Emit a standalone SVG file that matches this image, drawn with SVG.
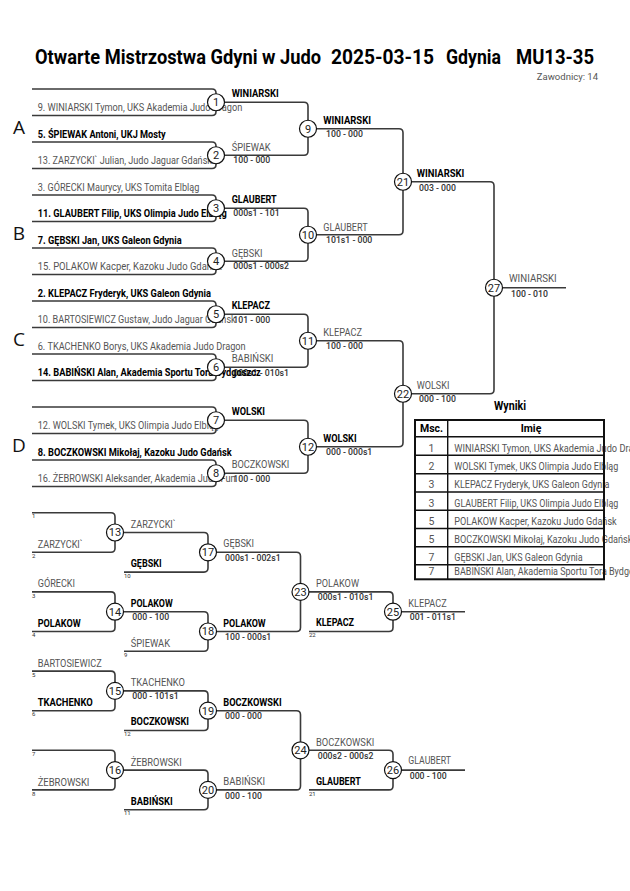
<svg xmlns="http://www.w3.org/2000/svg" width="630" height="891" viewBox="0 0 630 891">
<style>
text{font-family:Roboto,"Liberation Sans",sans-serif}
.ln{fill:none;stroke:#3a3a3a;stroke-width:1.6}
.cc{fill:#fff;stroke:#111;stroke-width:1.2}
.cn{font-size:11px;text-anchor:middle;fill:#222}
.n{font-size:10.5px}
.b{font-weight:700;fill:#000}
.g{fill:#555}
.sc{font-size:8.7px;font-weight:500;fill:#333}
.tn{font-size:6px;fill:#333}
.pool{font-family:"Open Sans","Liberation Sans",sans-serif;font-size:19px;fill:#111;text-anchor:middle}
.tt{font-size:20.5px;font-weight:700;fill:#000}
.tb{fill:none;stroke:#111;stroke-width:1.4}
.tbo{fill:#fff;stroke:#111;stroke-width:2}
</style>
<rect width="630" height="891" fill="#fff"/>

<g id="title">
<text class="tt" x="35" y="64" textLength="286" lengthAdjust="spacingAndGlyphs">Otwarte Mistrzostwa Gdyni w Judo</text>
<text class="tt" x="331" y="64" textLength="103" lengthAdjust="spacingAndGlyphs">2025-03-15</text>
<text class="tt" x="446" y="64" textLength="55" lengthAdjust="spacingAndGlyphs">Gdynia</text>
<text class="tt" x="516" y="64" textLength="78" lengthAdjust="spacingAndGlyphs">MU13-35</text>
<text x="598" y="80" font-size="9.5" fill="#555" text-anchor="end">Zawodnicy: 14</text>
</g>

<g id="pools">
<text class="pool" x="19" y="134">A</text>
<text class="pool" x="19" y="240">B</text>
<text class="pool" x="19" y="346">C</text>
<text class="pool" x="19" y="452">D</text>
</g>

<g id="connectors">
<path class="ln" d="M32 89H212Q216 89 216 93V111.5Q216 115.5 212 115.5H32"/>
<path class="ln" d="M32 142H212Q216 142 216 146V164.5Q216 168.5 212 168.5H32"/>
<path class="ln" d="M32 195H212Q216 195 216 199V217.5Q216 221.5 212 221.5H32"/>
<path class="ln" d="M32 248H212Q216 248 216 252V270.5Q216 274.5 212 274.5H32"/>
<path class="ln" d="M32 301H212Q216 301 216 305V323.5Q216 327.5 212 327.5H32"/>
<path class="ln" d="M32 354H212Q216 354 216 358V376.5Q216 380.5 212 380.5H32"/>
<path class="ln" d="M32 407H212Q216 407 216 411V429.5Q216 433.5 212 433.5H32"/>
<path class="ln" d="M32 460H212Q216 460 216 464V482.5Q216 486.5 212 486.5H32"/>
<path class="ln" d="M216 102.25H304Q308 102.25 308 106.25V151.25Q308 155.25 304 155.25H216"/>
<path class="ln" d="M216 208.25H304Q308 208.25 308 212.25V257.25Q308 261.25 304 261.25H216"/>
<path class="ln" d="M216 314.25H304Q308 314.25 308 318.25V363.25Q308 367.25 304 367.25H216"/>
<path class="ln" d="M216 420.25H304Q308 420.25 308 424.25V469.25Q308 473.25 304 473.25H216"/>
<path class="ln" d="M308 128.75H399Q403 128.75 403 132.75V230.75Q403 234.75 399 234.75H308"/>
<path class="ln" d="M308 340.75H399Q403 340.75 403 344.75V442.75Q403 446.75 399 446.75H308"/>
<path class="ln" d="M403 181.75H490Q494 181.75 494 185.75V389.75Q494 393.75 490 393.75H403"/>
<path class="ln" d="M494 287.75H566"/>

<path class="ln" d="M32 512.7H111Q115 512.7 115 516.7V548.3Q115 552.3 111 552.3H32"/>
<path class="ln" d="M32 591.9H111Q115 591.9 115 595.9V627.5Q115 631.5 111 631.5H32"/>
<path class="ln" d="M32 671.1H111Q115 671.1 115 675.1V706.7Q115 710.7 111 710.7H32"/>
<path class="ln" d="M32 750.3H111Q115 750.3 115 754.3V785.9Q115 789.9 111 789.9H32"/>
<path class="ln" d="M115 532.5H204Q208 532.5 208 536.5V568.1Q208 572.1 204 572.1H124"/>
<path class="ln" d="M115 611.7H204Q208 611.7 208 615.7V647.3Q208 651.3 204 651.3H124"/>
<path class="ln" d="M115 690.9H204Q208 690.9 208 694.9V726.5Q208 730.5 204 730.5H124"/>
<path class="ln" d="M115 770.1H204Q208 770.1 208 774.1V805.7Q208 809.7 204 809.7H124"/>
<path class="ln" d="M208 552.3H296.5Q300.5 552.3 300.5 556.3V627.5Q300.5 631.5 296.5 631.5H208"/>
<path class="ln" d="M208 710.7H296.5Q300.5 710.7 300.5 714.7V785.9Q300.5 789.9 296.5 789.9H208"/>
<path class="ln" d="M300.5 591.9H389Q393 591.9 393 595.9V627.5Q393 631.5 389 631.5H309"/>
<path class="ln" d="M300.5 750.3H389Q393 750.3 393 754.3V785.9Q393 789.9 389 789.9H309"/>
<path class="ln" d="M393 611.7H465"/>
<path class="ln" d="M393 770.1H465"/>
</g>

<g id="entrants">
<text class="n g" x="37.7" y="111" textLength="204.6" lengthAdjust="spacingAndGlyphs">9. WINIARSKI Tymon, UKS Akademia Judo Dragon</text>
<text class="n b" x="37.7" y="137.5" textLength="128" lengthAdjust="spacingAndGlyphs">5. ŚPIEWAK Antoni, UKJ Mosty</text>
<text class="n g" x="37.7" y="164" textLength="174.3" lengthAdjust="spacingAndGlyphs">13. ZARZYCKI` Julian, Judo Jaguar Gdańsk</text>
<text class="n g" x="37.7" y="190.5" textLength="161.6" lengthAdjust="spacingAndGlyphs">3. GÓRECKI Maurycy, UKS Tomita Elbląg</text>
<text class="n b" x="37.7" y="217" textLength="189" lengthAdjust="spacingAndGlyphs">11. GLAUBERT Filip, UKS Olimpia Judo Elbląg</text>
<text class="n b" x="37.7" y="243.5" textLength="144" lengthAdjust="spacingAndGlyphs">7. GĘBSKI Jan, UKS Galeon Gdynia</text>
<text class="n g" x="37.7" y="270" textLength="184" lengthAdjust="spacingAndGlyphs">15. POLAKOW Kacper, Kazoku Judo Gdańsk</text>
<text class="n b" x="37.7" y="296.5" textLength="173.3" lengthAdjust="spacingAndGlyphs">2. KLEPACZ Fryderyk, UKS Galeon Gdynia</text>
<text class="n g" x="37.7" y="323" textLength="198" lengthAdjust="spacingAndGlyphs">10. BARTOSIEWICZ Gustaw, Judo Jaguar Gdańsk</text>
<text class="n g" x="37.7" y="349.5" textLength="208" lengthAdjust="spacingAndGlyphs">6. TKACHENKO Borys, UKS Akademia Judo Dragon</text>
<text class="n g" x="37.7" y="429" textLength="181.3" lengthAdjust="spacingAndGlyphs">12. WOLSKI Tymek, UKS Olimpia Judo Elbląg</text>
<text class="n b" x="37.7" y="455.5" textLength="194" lengthAdjust="spacingAndGlyphs">8. BOCZKOWSKI Mikołaj, Kazoku Judo Gdańsk</text>
</g>

<g id="scores-main">
<text class="sc" x="233.3" y="163.3">100 - 000</text>
<text class="sc" x="233.3" y="216.3">000s1 - 101</text>
<text class="sc" x="233.3" y="269.3">000s1 - 000s2</text>
<text class="sc" x="233.3" y="322.5">101 - 000</text>
<text class="sc" x="233.3" y="375.5">000s1 - 010s1</text>
<text class="sc" x="233.3" y="481.5">100 - 000</text>
</g>

<g id="entrants-overlap">
<text class="n b" x="37.7" y="376" textLength="223" lengthAdjust="spacingAndGlyphs">14. BABIŃSKI Alan, Akademia Sportu Tora Bydgoszcz</text>
<text class="n g" x="37.7" y="482" textLength="198" lengthAdjust="spacingAndGlyphs">16. ŻEBROWSKI Aleksander, Akademia Judo Fun</text>
</g>

<g id="m1"><circle class="cc" cx="216" cy="102.25" r="8.5"/><text class="cn" x="216" y="106.2">1</text>
<text class="n b" x="231.7" y="97" textLength="47" lengthAdjust="spacingAndGlyphs">WINIARSKI</text></g>
<g id="m2"><circle class="cc" cx="216" cy="155.25" r="8.5"/><text class="cn" x="216" y="159.2">2</text>
<text class="n g" x="231.7" y="150.5" textLength="39" lengthAdjust="spacingAndGlyphs">ŚPIEWAK</text></g>
<g id="m3"><circle class="cc" cx="216" cy="208.25" r="8.5"/><text class="cn" x="216" y="212.2">3</text>
<text class="n b" x="231.7" y="203" textLength="45" lengthAdjust="spacingAndGlyphs">GLAUBERT</text></g>
<g id="m4"><circle class="cc" cx="216" cy="261.25" r="8.5"/><text class="cn" x="216" y="265.2">4</text>
<text class="n g" x="231.7" y="256.5" textLength="30.7" lengthAdjust="spacingAndGlyphs">GĘBSKI</text></g>
<g id="m5"><circle class="cc" cx="216" cy="314.25" r="8.5"/><text class="cn" x="216" y="318.2">5</text>
<text class="n b" x="231.7" y="309.3" textLength="38.3" lengthAdjust="spacingAndGlyphs">KLEPACZ</text></g>
<g id="m6"><circle class="cc" cx="216" cy="367.25" r="8.5"/><text class="cn" x="216" y="371.2">6</text>
<text class="n g" x="231.7" y="362" textLength="41.7" lengthAdjust="spacingAndGlyphs">BABIŃSKI</text></g>
<g id="m7"><circle class="cc" cx="216" cy="420.25" r="8.5"/><text class="cn" x="216" y="424.2">7</text>
<text class="n b" x="231.7" y="415" textLength="33.3" lengthAdjust="spacingAndGlyphs">WOLSKI</text></g>
<g id="m8"><circle class="cc" cx="216" cy="473.25" r="8.5"/><text class="cn" x="216" y="477.2">8</text>
<text class="n g" x="231.7" y="467.8" textLength="57.7" lengthAdjust="spacingAndGlyphs">BOCZKOWSKI</text></g>

<g id="m9"><circle class="cc" cx="308" cy="128.75" r="8.5"/><text class="cn" x="308" y="132.7">9</text>
<text class="n b" x="323.3" y="124" textLength="47.7" lengthAdjust="spacingAndGlyphs">WINIARSKI</text>
<text class="sc" x="326" y="137.3">100 - 000</text></g>
<g id="m10"><circle class="cc" cx="308" cy="234.75" r="8.5"/><text class="cn" x="308" y="238.7">10</text>
<text class="n g" x="323.3" y="230.5" textLength="44.3" lengthAdjust="spacingAndGlyphs">GLAUBERT</text>
<text class="sc" x="326" y="243.3">101s1 - 000</text></g>
<g id="m11"><circle class="cc" cx="308" cy="340.75" r="8.5"/><text class="cn" x="308" y="344.7">11</text>
<text class="n g" x="323.3" y="335.7" textLength="38.7" lengthAdjust="spacingAndGlyphs">KLEPACZ</text>
<text class="sc" x="326" y="349">100 - 000</text></g>
<g id="m12"><circle class="cc" cx="308" cy="446.75" r="8.5"/><text class="cn" x="308" y="450.7">12</text>
<text class="n b" x="323.3" y="441.7" textLength="33.3" lengthAdjust="spacingAndGlyphs">WOLSKI</text>
<text class="sc" x="326" y="455">000 - 000s1</text></g>
<g id="m21"><circle class="cc" cx="403" cy="181.75" r="8.5"/><text class="cn" x="403" y="185.7">21</text>
<text class="n b" x="416.7" y="177.3" textLength="47.7" lengthAdjust="spacingAndGlyphs">WINIARSKI</text>
<text class="sc" x="419" y="190.7">003 - 000</text></g>
<g id="m22"><circle class="cc" cx="403" cy="393.75" r="8.5"/><text class="cn" x="403" y="397.7">22</text>
<text class="n g" x="416.7" y="389" textLength="32.7" lengthAdjust="spacingAndGlyphs">WOLSKI</text>
<text class="sc" x="419" y="402.3">000 - 100</text></g>
<g id="m27"><circle class="cc" cx="494" cy="287.75" r="8.5"/><text class="cn" x="494" y="291.7">27</text>
<text class="n g" x="509" y="281.7" textLength="47.7" lengthAdjust="spacingAndGlyphs">WINIARSKI</text>
<text class="sc" x="511" y="296.7">100 - 010</text></g>

<g id="results">
<text x="510" y="410" font-size="12.5" font-weight="700" text-anchor="middle" textLength="32" lengthAdjust="spacingAndGlyphs">Wyniki</text>
<rect class="tbo" x="415" y="420" width="189" height="159.3"/>
<g class="n g">
<text x="454.3" y="451.5" textLength="194.6" lengthAdjust="spacingAndGlyphs">WINIARSKI Tymon, UKS Akademia Judo Dragon</text>
<text x="454.3" y="470" textLength="164" lengthAdjust="spacingAndGlyphs">WOLSKI Tymek, UKS Olimpia Judo Elbląg</text>
<text x="454.3" y="488.2" textLength="155" lengthAdjust="spacingAndGlyphs">KLEPACZ Fryderyk, UKS Galeon Gdynia</text>
<text x="454.3" y="506.5" textLength="164" lengthAdjust="spacingAndGlyphs">GLAUBERT Filip, UKS Olimpia Judo Elbląg</text>
<text x="454.3" y="524.7" textLength="162.4" lengthAdjust="spacingAndGlyphs">POLAKOW Kacper, Kazoku Judo Gdańsk</text>
<text x="454.3" y="542.9" textLength="178" lengthAdjust="spacingAndGlyphs">BOCZKOWSKI Mikołaj, Kazoku Judo Gdańsk</text>
<text x="454.3" y="561" textLength="128.4" lengthAdjust="spacingAndGlyphs">GĘBSKI Jan, UKS Galeon Gdynia</text>
<text x="454.3" y="575.3" textLength="198" lengthAdjust="spacingAndGlyphs">BABIŃSKI Alan, Akademia Sportu Tora Bydgoszcz</text>
</g>
<g class="n g" text-anchor="middle">
<text x="431.5" y="451.5">1</text>
<text x="431.5" y="470">2</text>
<text x="431.5" y="488.2">3</text>
<text x="431.5" y="506.5">3</text>
<text x="431.5" y="524.7">5</text>
<text x="431.5" y="542.9">5</text>
<text x="431.5" y="561">7</text>
<text x="431.5" y="575.3">7</text>
</g>
<g class="n b" text-anchor="middle">
<text x="431.5" y="432.3">Msc.</text>
<text x="531" y="432.3">Imię</text>
</g>
<path class="tb" d="M415 436.7H604M415 455.3H604M415 473.8H604M415 492H604M415 510.3H604M415 528.5H604M415 546.7H604M415 564.7H604M447.7 420V579.3"/>
<path fill="none" stroke="#111" stroke-width="2" d="M604 420V579.3"/>
</g>

<g id="repechage-entrants">
<text class="tn" x="32" y="518.3">1</text>
<text class="n g" x="37.7" y="547.8" textLength="45" lengthAdjust="spacingAndGlyphs">ZARZYCKI`</text>
<text class="tn" x="32" y="558">2</text>
<text class="n b" x="130.7" y="566.5" textLength="31" lengthAdjust="spacingAndGlyphs">GĘBSKI</text>
<text class="tn" x="124" y="577.8">10</text>
<text class="n g" x="37.7" y="587.3" textLength="37.3" lengthAdjust="spacingAndGlyphs">GÓRECKI</text>
<text class="tn" x="32" y="597.6">3</text>
<text class="n b" x="37.7" y="626.8" textLength="43" lengthAdjust="spacingAndGlyphs">POLAKOW</text>
<text class="tn" x="32" y="637.2">4</text>
<text class="n g" x="130.7" y="646.7" textLength="39.3" lengthAdjust="spacingAndGlyphs">ŚPIEWAK</text>
<text class="tn" x="124" y="657">9</text>
<text class="n b" x="316" y="626.3" textLength="38" lengthAdjust="spacingAndGlyphs">KLEPACZ</text>
<text class="tn" x="309" y="637.2">22</text>
<text class="n g" x="37.7" y="666.7" textLength="64" lengthAdjust="spacingAndGlyphs">BARTOSIEWICZ</text>
<text class="tn" x="32" y="676.8">5</text>
<text class="n b" x="37.7" y="706" textLength="55" lengthAdjust="spacingAndGlyphs">TKACHENKO</text>
<text class="tn" x="32" y="716.4">6</text>
<text class="n b" x="130.7" y="725.4" textLength="58.3" lengthAdjust="spacingAndGlyphs">BOCZKOWSKI</text>
<text class="tn" x="124" y="736.2">12</text>
<text class="tn" x="32" y="756">7</text>
<text class="n g" x="37.7" y="785.6" textLength="51.7" lengthAdjust="spacingAndGlyphs">ŻEBROWSKI</text>
<text class="tn" x="32" y="795.6">8</text>
<text class="n b" x="130.7" y="805" textLength="42" lengthAdjust="spacingAndGlyphs">BABIŃSKI</text>
<text class="tn" x="124" y="815.4">11</text>
<text class="n b" x="316" y="785.2" textLength="44.7" lengthAdjust="spacingAndGlyphs">GLAUBERT</text>
<text class="tn" x="309" y="795.6">21</text>
</g>

<g id="m13"><circle class="cc" cx="115" cy="532.5" r="8.5"/><text class="cn" x="115" y="536.4">13</text>
<text class="n g" x="130.7" y="527.5" textLength="45" lengthAdjust="spacingAndGlyphs">ZARZYCKI`</text></g>
<g id="m14"><circle class="cc" cx="115" cy="611.7" r="8.5"/><text class="cn" x="115" y="615.6">14</text>
<text class="n b" x="130.7" y="606.7" textLength="42" lengthAdjust="spacingAndGlyphs">POLAKOW</text>
<text class="sc" x="132.3" y="619.5">000 - 100</text></g>
<g id="m15"><circle class="cc" cx="115" cy="690.9" r="8.5"/><text class="cn" x="115" y="694.8">15</text>
<text class="n g" x="130.7" y="686.3" textLength="54.3" lengthAdjust="spacingAndGlyphs">TKACHENKO</text>
<text class="sc" x="132.3" y="699.3">000 - 101s1</text></g>
<g id="m16"><circle class="cc" cx="115" cy="770.1" r="8.5"/><text class="cn" x="115" y="774">16</text>
<text class="n g" x="130.7" y="765.6" textLength="51" lengthAdjust="spacingAndGlyphs">ŻEBROWSKI</text></g>
<g id="m17"><circle class="cc" cx="208" cy="552.3" r="8.5"/><text class="cn" x="208" y="556.2">17</text>
<text class="n g" x="223.3" y="547.3" textLength="30.7" lengthAdjust="spacingAndGlyphs">GĘBSKI</text>
<text class="sc" x="225" y="560.7">000s1 - 002s1</text></g>
<g id="m18"><circle class="cc" cx="208" cy="631.5" r="8.5"/><text class="cn" x="208" y="635.4">18</text>
<text class="n b" x="223.3" y="626.7" textLength="42.4" lengthAdjust="spacingAndGlyphs">POLAKOW</text>
<text class="sc" x="225" y="639.5">100 - 000s1</text></g>
<g id="m19"><circle class="cc" cx="208" cy="710.7" r="8.5"/><text class="cn" x="208" y="714.6">19</text>
<text class="n b" x="223.3" y="706" textLength="58.3" lengthAdjust="spacingAndGlyphs">BOCZKOWSKI</text>
<text class="sc" x="225" y="719.3">000 - 000</text></g>
<g id="m20"><circle class="cc" cx="208" cy="789.9" r="8.5"/><text class="cn" x="208" y="793.8">20</text>
<text class="n g" x="223.3" y="785" textLength="41.7" lengthAdjust="spacingAndGlyphs">BABIŃSKI</text>
<text class="sc" x="225" y="799">000 - 100</text></g>
<g id="m23"><circle class="cc" cx="300.5" cy="591.9" r="8.5"/><text class="cn" x="300.5" y="595.8">23</text>
<text class="n g" x="316" y="587.3" textLength="43" lengthAdjust="spacingAndGlyphs">POLAKOW</text>
<text class="sc" x="317.7" y="599.5">000s1 - 010s1</text></g>
<g id="m24"><circle class="cc" cx="300.5" cy="750.3" r="8.5"/><text class="cn" x="300.5" y="754.2">24</text>
<text class="n g" x="316" y="746" textLength="58.3" lengthAdjust="spacingAndGlyphs">BOCZKOWSKI</text>
<text class="sc" x="317.7" y="759.3">000s2 - 000s2</text></g>
<g id="m25"><circle class="cc" cx="393" cy="611.7" r="8.5"/><text class="cn" x="393" y="615.6">25</text>
<text class="n g" x="408.3" y="606.7" textLength="38.3" lengthAdjust="spacingAndGlyphs">KLEPACZ</text>
<text class="sc" x="409.7" y="620">001 - 011s1</text></g>
<g id="m26"><circle class="cc" cx="393" cy="770.1" r="8.5"/><text class="cn" x="393" y="774">26</text>
<text class="n g" x="408.3" y="764" textLength="42.7" lengthAdjust="spacingAndGlyphs">GLAUBERT</text>
<text class="sc" x="409.7" y="779.3">000 - 100</text></g>
</svg>
